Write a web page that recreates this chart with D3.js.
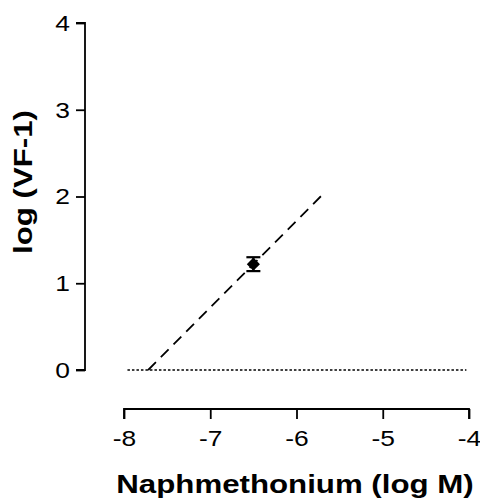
<!DOCTYPE html>
<html>
<head>
<meta charset="utf-8">
<script src="https://cdn.jsdelivr.net/npm/d3@7"></script>
<style>
  html, body { margin: 0; padding: 0; background: #fff; }
  svg { display: block; }
  text { font-family: "Liberation Sans", Arial, sans-serif; fill: #000; }
</style>
</head>
<body>
<svg id="chart" width="480" height="502"></svg>
<script>
// Schild-type plot: single mean point with SEM, regression line and zero baseline
const pointX = [-6.5];
const pointY = [1.22];
const pointErr = [0.08];
const fitX = [-7.72, -5.7];
const fitY = [0, 2.02];
const baseX = [-7.96, -4.03];
const baseY = [0, 0];
const xTicks = [-8, -7, -6, -5, -4];
const yTicks = [0, 1, 2, 3, 4];
const xTitle = "Naphmethonium (log M)";
const yTitle = "log (VF-1)";

// text is drawn slightly widened along its reading direction
const WIDEN = 1.25;
const WIDEN_TICK = 1.2;

const svg = d3.select("#chart");
const x = d3.scaleLinear().domain([-8, -4]).range([124, 469]);
const y = d3.scaleLinear().domain([0, 4]).range([370, 23]);

// Axes
const yAxis = d3.axisLeft(y).tickValues(yTicks).tickSize(9).tickPadding(6).tickFormat(d3.format("d"));
const xAxis = d3.axisBottom(x).tickValues(xTicks).tickSize(10).tickPadding(11)
  .tickFormat(d => d3.format("d")(d).replace("\u2212", "-"));

const gy = svg.append("g").attr("transform", "translate(85,0)").call(yAxis);
const gx = svg.append("g").attr("transform", "translate(0,409)").call(xAxis);
[gy, gx].forEach(g => {
  g.select(".domain").attr("stroke", "#000").attr("stroke-width", 1.8);
  g.selectAll(".tick line").attr("stroke", "#000").attr("stroke-width", 1.8);
  g.selectAll(".tick text").attr("font-size", 22)
    .attr("font-family", "Liberation Sans, Arial, sans-serif").attr("fill", "#000");
});
gy.selectAll(".tick text").attr("x", 0).attr("dy", "0.34em")
  .attr("transform", `translate(-15,0) scale(${WIDEN_TICK},1)`);
gx.selectAll(".tick text").attr("transform", `scale(${WIDEN_TICK},1)`);
gy.select(".domain").attr("d", `M-9,${y(4)}H0V${y(0)}H-9`);
gx.select(".domain").attr("d", `M${x(-8)},10V0H${x(-4)}V10`);

// Zero baseline (dotted)
const line = d3.line().x(d => x(d[0])).y(d => y(d[1]));
svg.append("path")
  .attr("d", line(d3.zip(baseX, baseY)))
  .attr("fill", "none").attr("stroke", "#000").attr("stroke-width", 1.5)
  .attr("stroke-dasharray", "2.5,2");

// Fitted line (dashed)
svg.append("path")
  .attr("d", line(d3.zip(fitX, fitY)))
  .attr("fill", "none").attr("stroke", "#000").attr("stroke-width", 1.8)
  .attr("stroke-dasharray", "11,7");

// Error bars with caps
const pts = d3.range(pointX.length).map(i => ({ x: pointX[i], y: pointY[i], e: pointErr[i] }));
const eb = svg.append("g").attr("stroke", "#000").attr("stroke-width", 2.2);
pts.forEach(p => {
  eb.append("line").attr("x1", x(p.x)).attr("x2", x(p.x)).attr("y1", y(p.y - p.e)).attr("y2", y(p.y + p.e));
  eb.append("line").attr("x1", x(p.x) - 7).attr("x2", x(p.x) + 7).attr("y1", y(p.y + p.e)).attr("y2", y(p.y + p.e));
  eb.append("line").attr("x1", x(p.x) - 7).attr("x2", x(p.x) + 7).attr("y1", y(p.y - p.e)).attr("y2", y(p.y - p.e));
});

// Diamond markers
svg.append("g").selectAll("path").data(pts).join("path")
  .attr("transform", d => `translate(${x(d.x)},${y(d.y)})`)
  .attr("d", d3.symbol().type(d3.symbolDiamond2).size(110))
  .attr("fill", "#000");

// Axis titles
svg.append("text")
  .attr("transform", `translate(295,493) scale(${WIDEN},1)`)
  .attr("text-anchor", "middle")
  .attr("font-size", 25).attr("font-weight", "bold")
  .text(xTitle);

svg.append("text")
  .attr("transform", `translate(32,182) rotate(-90) scale(${WIDEN},1)`)
  .attr("text-anchor", "middle")
  .attr("font-size", 25).attr("font-weight", "bold")
  .text(yTitle);
</script>
</body>
</html>
